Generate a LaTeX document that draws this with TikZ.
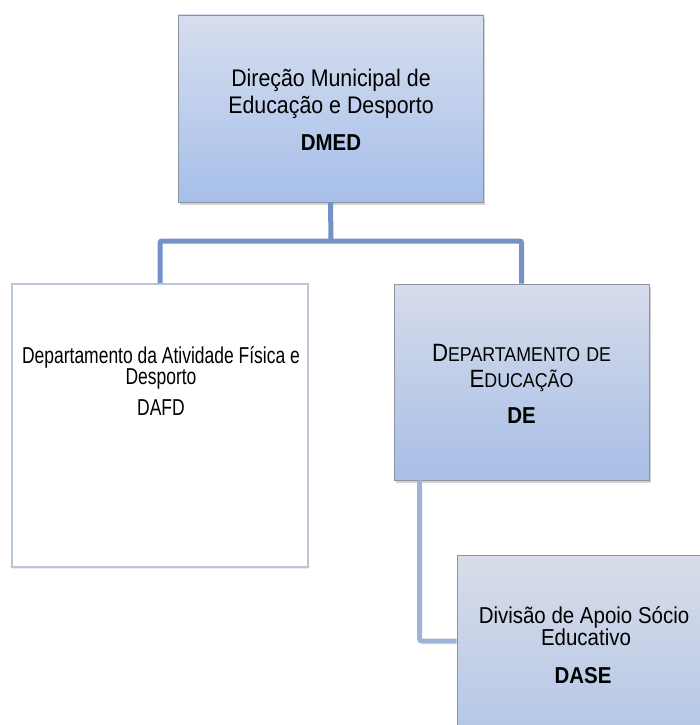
\documentclass[tikz,border=0pt]{standalone}
\usepackage{fontspec}
\setmainfont{Liberation Sans}
\newfontfamily\fontA[FakeStretch=0.89]{Liberation Sans}
\newfontfamily\fontB[FakeStretch=0.76]{Liberation Sans}
\usetikzlibrary{shadows,calc}
\definecolor{connA}{HTML}{7393C6}
\definecolor{connB}{HTML}{9DB3D7}
\definecolor{bordA}{HTML}{8C939E}
\definecolor{bordB}{HTML}{B9C6D6}
\newcommand{\fakesc}[2]{{\fontsize{25}{25}\selectfont #1}{\fontsize{20}{20}\selectfont #2}}
\tikzset{
  bluebox/.style={draw=bordA, line width=0.8pt, inner sep=0pt,
    drop shadow={opacity=0.35, shadow xshift=1.5pt, shadow yshift=-3pt}},
  whitebox/.style={draw=bordB, line width=1.6pt, fill=white, inner sep=0pt,
    drop shadow={opacity=0.15, shadow xshift=1pt, shadow yshift=-2pt}},
  conn/.style={draw=connA, line width=5pt, rounded corners=2pt},
  connlight/.style={draw=connB, line width=5pt, rounded corners=2pt},
  txt/.style={anchor=base, inner sep=0pt, text=black},
}
\begin{document}
\begin{tikzpicture}[x=1pt, y=-1pt]
\useasboundingbox (0,0) rectangle (700,725);
\clip (0,0) rectangle (700,725);
% boxes
\node[bluebox, top color={rgb,255:red,215;green,222;blue,238}, bottom color={rgb,255:red,166;green,191;blue,234},
  minimum width=305pt, minimum height=187pt] (dmed) at (330.5,108.5) {};
\node[whitebox, minimum width=296pt, minimum height=283pt] (dafd) at (160,425.5) {};
\node[bluebox, top color={rgb,255:red,214;green,220;blue,234}, bottom color={rgb,255:red,168;green,190;blue,230},
  minimum width=255pt, minimum height=196pt] (de) at (521.5,382) {};
\node[bluebox, top color={rgb,255:red,216;green,221;blue,233}, bottom color={rgb,255:red,178;green,196;blue,230},
  minimum width=255pt, minimum height=196pt] (dase) at (584.5,653) {};
% connectors
\coordinate (bar) at (331,241);
\draw[conn] (dmed.south) -- (bar);
\draw[conn] (dafd.north) |- (bar) -| (de.north);
\coordinate (destem) at ($(de.south west)+(26,0)$);
\coordinate (dasein) at ($(dase.west)+(0,-12)$);
\draw[connlight] (destem) |- (dasein);
% texts
\node[txt] (dmedA) at (331,86) {\fontA\fontsize{24}{24}\selectfont Direção Municipal de};
\node[txt] (dmedB) at (331,113) {\fontA\fontsize{24}{24}\selectfont Educação e Desporto};
\node[txt] (dmedC) at (331,150) {\fontA\fontsize{23}{23}\selectfont\bfseries DMED};
\node[txt] (dafdA) at (161,363) {\fontB\fontsize{23}{23}\selectfont Departamento da Atividade Física e};
\node[txt] (dafdB) at (161,384) {\fontB\fontsize{23}{23}\selectfont Desporto};
\node[txt] (dafdC) at (161,415) {\fontB\fontsize{23}{23}\selectfont DAFD};
\node[txt] (deA) at (521.5,361) {\fontA\fakesc{D}{EPARTAMENTO}\hspace{6pt}\fakesc{}{DE}};
\node[txt] (deB) at (521.5,387) {\fontA\fakesc{E}{DUCAÇÃO}};
\node[txt] (deC) at (521.5,423) {\fontA\fontsize{23}{23}\selectfont\bfseries DE};
\node[txt] (daseA) at (584,623) {\fontA\fontsize{23}{23}\selectfont Divisão de Apoio Sócio};
\node[txt] (daseB) at (586,645) {\fontA\fontsize{23}{23}\selectfont Educativo};
\node[txt] (daseC) at (583,683) {\fontA\fontsize{23}{23}\selectfont\bfseries DASE};
\end{tikzpicture}
\end{document}
